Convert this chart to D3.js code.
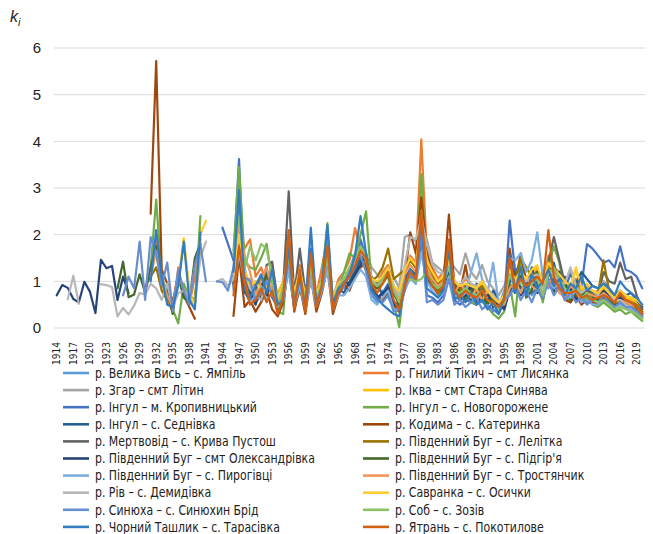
<!DOCTYPE html>
<html lang="uk">
<head>
<meta charset="UTF-8">
<title>k_i</title>
<script src="https://cdnjs.cloudflare.com/ajax/libs/d3/7.8.5/d3.min.js"></script>
<style>
  body { margin: 0; background: #fff; }
  svg { display: block; font-family: "Liberation Sans Narrow", "DejaVu Sans Condensed", sans-serif; }
  .grid line { stroke: #d9d9d9; stroke-width: 1; }
  .series { fill: none; stroke-width: 2.2; stroke-linejoin: round; stroke-linecap: round; }
</style>
</head>
<body>
<div id="chart"></div>
<script>
// роки (категорії осі X)
const years = d3.range(1914, 2021);
const yTicks = [0, 1, 2, 3, 4, 5, 6];

const names = [
  "р. Велика Вись – с. Ямпіль",
  "р. Гнилий Тікич – смт Лисянка",
  "р. Згар – смт Літин",
  "р. Іква – смт Стара Синява",
  "р. Інгул – м. Кропивницький",
  "р. Інгул – с. Новогорожене",
  "р. Інгул – с. Седнівка",
  "р. Кодима – с. Катеринка",
  "р. Мертвовід – с. Крива Пустош",
  "р. Південний Буг – с. Лелітка",
  "р. Південний Буг – смт Олександрівка",
  "р. Південний Буг – с. Підгір'я",
  "р. Південний Буг – с. Пирогівці",
  "р. Південний Буг – с. Тростянчик",
  "р. Рів – с. Демидівка",
  "р. Савранка – с. Осички",
  "р. Синюха – с. Синюхин Брід",
  "р. Соб – с. Зозів",
  "р. Чорний Ташлик – с. Тарасівка",
  "р. Ятрань – с. Покотилове"
];

const colors = ["#5B9BD5", "#ED7D31", "#A5A5A5", "#FFC000", "#4472C4", "#70AD47", "#255E91", "#9E480E",
  "#636363", "#997300", "#264478", "#43682B", "#7CAFDD", "#F1975A", "#B7B7B7", "#FFCD33",
  "#698ED0", "#8CC168", "#327DC2", "#D26012"];

// ранні ряди (до 1946), початковий рік у earlyStart
const earlyStart = [null, 1931, null, 1932, 1944, 1931, null, 1931, null, 1930,
  1914, 1925, null, 1931, 1916, 1936, 1926, null, 1931, null];

const tikychEarly = [1.2, 1.85, 1.0, 0.6, 0.35, 1.3, 0.7, 0.5, 1.1, 1.6];
const ikvaEarly = [1.55, 1.05, 0.7, 0.45, 1.0, 1.92, 0.75, 0.55, 2.15];
const kropEarly = [2.15, 1.8];
const novohorEarly = [1.3, 2.75, 1.1, 0.75, 0.4, 0.1, 0.95, 0.65, 0.5, 2.4];
const kodymaEarly = [2.45, 5.72, 1.25, 0.95, 0.55, 1.15, 0.7, 0.45, 0.2];
const lelitkaEarly = [0.9, 1.1, 1.3, 0.8, 0.6, 0.5, 1.0, 0.8, 0.7, 0.6, 1.9];
const oleksEarly = [0.70, 0.92, 0.86, 0.62, 0.55, 0.99, 0.78, 0.32, 1.46, 1.28, 1.33, 0.60, 1.10, 0.75];
const pidhirEarly = [0.85, 1.42, 0.66, 0.72, 1.15, 0.75, 1.3, 1.75, 1.0, 0.8, 0.3, 1.1, 0.65, 0.55, 1.5, 1.8];
const trostEarly = [1.1, 1.65, 1.05, 0.7, 0.45, 1.2, 0.8, 0.6, 1.3, 1.7];
const rivEarly = [0.62, 1.12, 0.52, null, null, null, 0.94, 0.92, 0.88, 0.25, 0.43, 0.29, 0.48, 0.75, 0.72,
  0.95, 0.85, 0.6, 0.95, 0.45, 0.75, 0.8, 0.7, 0.55, 1.5, 1.85, null, 1.0, 1.05, 0.9];
const savrEarly = [0.9, 1.9, 0.8, 0.45, 2.0, 2.3];
const syniukhaEarly = [0.7, 1.1, 0.85, 1.85, 0.6, 1.95, 1.6, 0.9, 1.4, 0.35, 1.25, 0.8, 0.5, 1.35, 1.8, 1.0,
  null, 1.0, 0.98, 0.8];
const tashlykEarly = [1.0, 2.1, 1.1, 0.5, 0.45, 0.9, 1.85, 0.6, 0.4, 2.05];

// 1946–2020
const velykaVys = [1.0, 2.2, 1.3, 0.75, 0.95, 0.6, 0.85, 1.1, 0.55, 0.9, 1.2, 0.45, 0.8, 0.5, 1.05, 0.58, 0.92, 1.62, 0.47, 0.83,
  0.85, 0.95, 1.3, 1.5, 1.25, 0.7, 0.55, 0.8, 0.65, 0.45, 0.45, 1.02, 1.27, 1.08, 2.35, 1.18, 0.97, 0.78, 0.92, 1.46,
  0.7, 0.85, 0.6, 0.9, 0.75, 0.55, 0.8, 0.65, 0.45, 0.8, 0.95, 1.15, 0.75, 1.0, 0.7, 0.9, 1.2, 0.85, 1.05, 1.1,
  0.7, 0.95, 0.65, 0.8, 0.55, 0.65, 0.61, 0.77, 0.63, 0.52, 0.64, 0.55, 0.51, 0.42, 0.31];
const hnylyiTikych = [1.45, 2.3, 1.7, 1.9, 1.1, 1.3, 0.95, 1.35, 0.6, 0.85, 2.05, 0.6, 1.35, 0.52, 1.6, 0.7, 1.3, 1.95, 0.62, 1.05,
  1.2, 1.45, 2.14, 1.65, 1.5, 1.05, 0.95, 1.2, 1.35, 0.85, 0.7, 1.3, 1.55, 1.4, 4.04, 1.6, 1.3, 1.05, 1.2, 1.75,
  1.0, 0.9, 1.05, 0.95, 0.85, 1.0, 0.8, 0.65, 0.55, 0.7, 1.4, 1.05, 1.3, 0.95, 1.1, 1.25, 0.85, 1.55, 1.3, 1.2,
  1.0, 0.8, 1.05, 0.75, 0.85, 0.75, 0.8, 0.9, 0.75, 0.6, 0.75, 0.6, 0.65, 0.5, 0.35];
const zhar = [0.95, 1.7, 0.9, 1.05, 0.6, 0.75, 0.9, 1.2, 0.7, 0.65, 1.6, 0.65, 1.0, 0.7, 1.2, 0.65, 1.05, 1.3, 0.7, 0.95,
  1.2, 1.1, 1.35, 1.8, 1.55, 1.3, 1.15, 1.0, 1.25, 1.1, 0.85, 1.95, 2.0, 1.85, 2.2, 1.9, 1.4, 1.3, 1.2, 1.45,
  1.3, 1.15, 1.6, 1.2, 1.05, 1.35, 1.0, 0.85, 0.7, 0.9, 1.15, 1.0, 1.2, 1.0, 1.05, 1.15, 0.75, 1.3, 1.2, 1.05,
  0.9, 1.25, 0.85, 0.75, 0.85, 0.8, 0.7, 0.85, 0.7, 0.6, 0.65, 0.55, 0.5, 0.4, 0.25];
const ikva = [1.2, 2.0, 1.05, 0.8, 0.95, 0.85, 0.7, 0.9, 0.75, 1.0, 1.55, 0.7, 1.2, 0.65, 1.3, 0.7, 0.95, 1.45, 0.6, 0.9,
  1.0, 1.25, 1.4, 1.6, 1.5, 1.0, 0.95, 1.05, 1.25, 0.85, 0.75, 1.2, 1.45, 1.3, 2.3, 1.4, 1.15, 0.95, 1.05, 1.5,
  0.95, 0.85, 0.9, 0.85, 0.8, 0.95, 0.75, 0.6, 0.5, 0.65, 1.2, 1.0, 1.15, 1.0, 1.2, 1.3, 0.9, 1.35, 1.2, 1.1,
  0.95, 0.9, 1.25, 0.8, 0.9, 0.75, 0.7, 0.85, 0.7, 0.6, 0.75, 0.65, 0.6, 0.55, 0.45];
const kropyvnytskyi = [1.45, 3.62, 0.75, 0.9, 0.55, 0.7, 1.25, 0.65, 0.45, 0.5, 1.4, 0.45, 1.0, 0.4, 1.7, 0.5, 0.85, 1.55, 0.45, 0.75,
  0.95, 1.1, 1.35, 1.9, 1.5, 0.85, 0.6, 0.75, 0.95, 0.5, 0.35, 0.8, 1.1, 0.95, 1.9, 0.7, 0.65, 0.55, 0.7, 1.2,
  0.6, 0.5, 0.6, 0.55, 0.5, 0.6, 0.45, 0.4, 0.3, 0.55, 2.3, 1.2, 1.4, 0.9, 0.75, 0.85, 0.6, 1.05, 0.9, 0.8,
  0.85, 1.15, 0.95, 0.9, 1.8, 1.7, 1.55, 1.4, 1.45, 1.3, 1.75, 1.25, 1.2, 1.1, 0.85];
const novohorozhene = [1.65, 3.45, 1.45, 1.3, 1.25, 1.5, 1.8, 1.0, 0.35, 0.3, 1.75, 0.45, 1.2, 0.35, 1.45, 0.45, 1.05, 2.25, 0.5, 0.85,
  1.2, 1.6, 1.5, 2.0, 2.5, 0.95, 0.85, 1.0, 1.1, 0.55, 0.02, 1.0, 1.15, 1.05, 3.3, 1.3, 1.0, 0.7, 0.85, 1.2,
  0.7, 0.6, 0.75, 0.55, 0.5, 0.65, 0.45, 0.3, 0.2, 0.35, 0.95, 0.25, 1.5, 0.7, 0.85, 1.1, 0.55, 1.3, 1.75, 1.4,
  0.7, 0.55, 0.75, 0.55, 0.65, 0.5, 0.45, 0.55, 0.45, 0.35, 0.4, 0.3, 0.35, 0.25, 0.15];
const sednivka = [0.9, 2.05, 0.8, 0.55, 0.85, 1.05, 0.8, 1.0, 0.4, 0.75, 1.55, 0.55, 1.15, 0.5, 1.3, 0.55, 0.95, 1.5, 0.55, 0.85,
  0.75, 1.0, 1.2, 1.45, 1.3, 0.85, 0.95, 0.7, 0.9, 0.55, 0.5, 1.05, 1.25, 1.15, 2.5, 1.15, 0.95, 0.8, 0.95, 1.35,
  0.65, 0.9, 0.7, 0.6, 0.95, 0.7, 0.55, 0.8, 0.6, 0.45, 1.0, 1.2, 0.85, 0.95, 1.3, 0.9, 1.0, 1.1, 1.4, 0.85,
  1.1, 0.8, 0.95, 1.2, 1.05, 0.9, 0.85, 1.0, 0.85, 0.7, 0.8, 0.7, 0.75, 0.6, 0.45];
const kodyma = [0.26, 1.55, 0.45, 0.6, 0.35, 0.55, 0.8, 0.4, 0.25, 0.55, 1.5, 0.35, 0.9, 0.3, 1.1, 0.35, 0.75, 1.3, 0.3, 0.7,
  0.95, 0.8, 1.1, 1.3, 1.4, 0.9, 0.7, 0.6, 0.75, 0.45, 0.35, 1.1, 2.05, 1.6, 2.8, 1.7, 1.2, 0.85, 1.0, 2.43,
  0.85, 0.75, 1.35, 0.7, 0.7, 0.8, 0.6, 0.5, 0.4, 0.55, 1.7, 0.95, 1.6, 1.0, 0.95, 1.05, 0.65, 1.25, 1.0, 0.9,
  0.6, 0.55, 0.7, 0.5, 0.6, 0.55, 0.5, 0.65, 0.55, 0.45, 0.55, 0.45, 0.4, 0.35, 0.25];
const mertvovid = [0.85, 1.8, 1.15, 0.7, 1.0, 0.8, 1.35, 1.42, 0.55, 0.9, 2.93, 0.7, 1.7, 0.75, 1.4, 0.65, 1.0, 1.45, 0.6, 0.9,
  1.0, 1.15, 1.35, 1.55, 1.4, 1.1, 0.95, 1.05, 1.3, 0.9, 0.65, 1.2, 1.45, 1.3, 2.2, 1.25, 1.05, 0.9, 1.0, 1.3,
  0.85, 0.75, 0.9, 0.8, 0.75, 0.85, 0.7, 0.6, 0.5, 0.65, 1.3, 0.95, 1.15, 0.9, 1.0, 1.05, 0.75, 1.4, 1.95, 1.45,
  0.95, 0.9, 0.85, 0.7, 0.85, 0.75, 0.7, 1.2, 1.0, 0.95, 1.4, 1.05, 1.1, 0.7, 0.4];
const lelitka = [1.0, 1.85, 1.2, 0.95, 0.65, 1.1, 0.95, 0.85, 0.6, 0.8, 1.6, 0.6, 1.05, 0.55, 1.25, 0.6, 0.95, 1.4, 0.55, 0.85,
  1.0, 1.2, 1.4, 1.65, 1.5, 1.0, 1.1, 1.3, 1.7, 1.05, 1.15, 1.25, 1.45, 1.3, 2.4, 1.35, 1.1, 0.95, 1.05, 1.55,
  0.9, 0.8, 0.95, 0.85, 0.8, 0.9, 0.75, 0.65, 0.55, 0.7, 1.25, 1.0, 1.5, 1.3, 1.1, 1.2, 0.85, 1.3, 1.15, 1.05,
  0.9, 0.8, 0.95, 0.75, 0.8, 0.7, 0.75, 1.45, 0.8, 0.65, 0.7, 0.6, 0.55, 0.5, 0.35];
const oleksandrivka = [0.95, 2.3, 0.85, 0.75, 0.5, 0.95, 0.7, 1.05, 0.5, 0.7, 1.45, 0.5, 1.05, 0.45, 1.2, 0.5, 0.85, 1.4, 0.5, 0.8,
  1.05, 0.9, 1.15, 1.35, 1.6, 1.0, 0.65, 0.75, 0.85, 0.5, 0.45, 0.95, 1.15, 1.05, 2.2, 1.05, 0.9, 0.75, 0.85, 1.25,
  0.85, 0.6, 0.7, 0.9, 0.55, 0.65, 0.75, 0.45, 0.55, 0.4, 0.8, 1.05, 0.7, 0.85, 1.0, 0.75, 0.95, 1.0, 0.8, 1.2,
  0.7, 0.85, 0.6, 0.75, 0.7, 0.7, 0.65, 0.8, 0.7, 0.55, 0.65, 0.55, 0.5, 0.45, 0.3];
const pidhirya = [1.1, 2.5, 0.95, 0.7, 0.8, 0.65, 1.15, 0.75, 0.5, 0.85, 1.5, 0.55, 1.1, 0.5, 1.25, 0.55, 0.9, 1.45, 0.5, 0.8,
  0.95, 1.15, 1.35, 1.6, 1.45, 0.95, 0.85, 0.95, 1.15, 0.75, 0.5, 1.0, 1.2, 1.1, 2.3, 1.2, 1.0, 0.8, 0.95, 1.35,
  0.95, 0.75, 0.6, 0.8, 0.9, 0.7, 0.5, 0.65, 0.55, 0.7, 0.9, 0.75, 1.15, 0.65, 0.8, 1.2, 0.9, 1.0, 0.75, 0.85,
  0.95, 0.6, 0.75, 0.7, 0.85, 0.65, 0.6, 0.75, 0.6, 0.5, 0.6, 0.5, 0.5, 0.4, 0.3];
const pyrohivtsi = [0.8, 1.6, 1.0, 0.55, 0.7, 0.9, 0.6, 0.75, 0.45, 0.6, 1.25, 0.45, 0.9, 0.4, 1.05, 0.45, 0.8, 1.25, 0.4, 0.7,
  0.7, 0.85, 1.05, 1.25, 1.1, 0.6, 0.5, 0.65, 0.8, 0.4, 0.4, 0.85, 1.05, 0.95, 1.6, 1.0, 0.8, 0.65, 0.75, 1.1,
  0.7, 0.65, 0.75, 1.2, 1.6, 1.05, 0.75, 1.4, 0.55, 0.7, 1.5, 1.45, 1.6, 1.2, 1.45, 2.05, 1.1, 1.0, 0.85, 1.0,
  0.75, 0.65, 0.8, 0.55, 0.6, 0.5, 0.5, 0.6, 0.5, 0.45, 0.5, 0.45, 0.4, 0.35, 0.2];
const trostianchyk = [1.25, 2.2, 1.55, 1.2, 0.7, 1.0, 1.3, 0.8, 0.65, 0.95, 1.65, 0.65, 1.2, 0.6, 1.35, 0.65, 1.0, 1.55, 0.6, 0.95,
  1.05, 1.25, 1.55, 1.7, 1.45, 1.0, 0.9, 1.05, 1.25, 0.85, 0.6, 1.15, 1.35, 1.2, 2.5, 1.3, 1.05, 0.9, 1.0, 1.4,
  0.75, 0.95, 0.8, 0.65, 0.85, 0.6, 0.8, 0.7, 0.55, 0.5, 0.85, 1.0, 0.75, 1.1, 0.9, 0.8, 1.05, 0.9, 1.2, 0.75,
  0.65, 0.9, 0.8, 0.6, 0.75, 0.7, 0.65, 0.75, 0.65, 0.55, 0.6, 0.55, 0.5, 0.45, 0.3];
const riv = [1.05, 1.65, 1.2, 0.85, 0.7, 0.6, 1.0, 0.95, 0.7, 0.6, 1.45, 0.6, 1.05, 0.55, 1.2, 0.6, 0.95, 1.35, 0.55, 0.85,
  0.95, 1.2, 1.4, 1.6, 1.5, 1.05, 0.9, 1.0, 1.2, 0.9, 0.7, 1.35, 1.95, 1.9, 2.35, 1.8, 1.35, 1.2, 1.15, 1.4,
  1.0, 0.9, 1.1, 0.95, 0.9, 1.0, 0.85, 0.7, 0.55, 0.7, 1.2, 1.0, 1.2, 1.0, 1.1, 1.15, 0.8, 1.25, 1.15, 1.0,
  0.95, 1.3, 0.9, 0.75, 0.85, 0.8, 0.7, 1.0, 0.75, 0.6, 0.6, 0.5, 0.45, 0.35, 0.2];
const savranka = [1.15, 2.0, 1.25, 0.9, 1.0, 0.8, 0.85, 1.1, 0.6, 0.95, 1.6, 0.75, 1.25, 0.7, 1.4, 0.75, 1.0, 1.5, 0.65, 0.95,
  1.05, 1.3, 1.5, 1.65, 1.55, 1.05, 1.0, 1.1, 1.3, 0.9, 0.8, 1.25, 1.5, 1.35, 2.2, 1.45, 1.2, 1.0, 1.1, 1.45,
  1.0, 0.9, 0.95, 0.9, 0.85, 1.0, 0.8, 0.65, 0.55, 0.7, 1.25, 1.05, 1.2, 1.05, 1.25, 1.35, 0.95, 1.4, 1.25, 1.15,
  1.0, 0.9, 1.3, 0.85, 0.95, 0.8, 0.75, 0.9, 0.75, 0.65, 0.8, 0.7, 0.65, 0.6, 0.5];
const syniukha = [1.3, 2.75, 1.1, 1.0, 0.6, 0.75, 1.0, 0.7, 0.5, 0.75, 1.45, 0.5, 1.05, 0.45, 1.25, 0.55, 0.85, 1.45, 0.5, 0.8,
  0.9, 1.25, 1.6, 1.55, 1.2, 0.75, 0.6, 0.55, 0.7, 0.35, 0.4, 0.9, 1.15, 1.0, 2.1, 0.55, 0.6, 0.5, 0.6, 1.05,
  0.5, 0.6, 0.45, 0.55, 0.65, 0.4, 0.5, 0.35, 0.45, 0.6, 0.7, 0.9, 0.6, 0.8, 0.55, 0.85, 0.65, 1.0, 0.7, 0.9,
  0.6, 0.75, 0.55, 0.65, 0.5, 0.6, 0.55, 0.7, 0.55, 0.45, 0.55, 0.45, 0.45, 0.35, 0.25];
const sob = [1.55, 2.4, 1.25, 1.75, 1.45, 1.8, 1.7, 1.05, 0.45, 0.9, 1.55, 0.65, 1.15, 0.6, 1.3, 0.6, 1.0, 1.5, 0.55, 0.9,
  1.05, 1.3, 1.5, 1.75, 1.55, 1.0, 0.9, 1.05, 1.2, 0.8, 0.55, 1.0, 1.05, 1.0, 1.05, 1.2, 0.95, 0.85, 0.95, 1.3,
  0.8, 0.75, 0.85, 0.75, 0.7, 0.8, 0.6, 0.5, 0.4, 0.55, 1.15, 0.85, 1.0, 0.8, 0.95, 1.05, 0.7, 1.15, 1.3, 1.05,
  0.85, 0.75, 0.85, 0.65, 0.75, 0.6, 0.55, 0.6, 0.5, 0.4, 0.45, 0.4, 0.35, 0.3, 0.2];
const chornyiTashlyk = [1.2, 2.95, 0.85, 0.65, 0.9, 1.15, 0.75, 1.25, 0.5, 0.6, 1.75, 0.5, 1.1, 0.45, 2.15, 0.5, 0.9, 2.2, 0.5, 0.85,
  0.95, 1.15, 1.55, 2.4, 1.6, 0.8, 0.65, 0.5, 0.4, 0.3, 0.25, 0.95, 1.25, 1.05, 2.3, 0.85, 0.75, 0.65, 0.8, 1.7,
  0.6, 0.7, 0.55, 0.75, 0.5, 0.6, 0.4, 0.55, 0.3, 0.65, 1.55, 0.75, 1.3, 0.7, 1.15, 0.85, 1.0, 1.25, 0.9, 1.05,
  0.7, 0.95, 0.85, 1.1, 0.8, 0.9, 0.85, 0.95, 0.85, 0.7, 1.0, 0.85, 0.75, 0.65, 0.5];
const yatran = [0.7, 1.75, 1.0, 0.5, 0.6, 0.85, 0.55, 0.8, 0.3, 0.65, 2.1, 0.4, 1.25, 0.35, 1.6, 0.45, 0.9, 1.75, 0.4, 0.75,
  0.95, 1.1, 1.35, 1.65, 1.5, 0.95, 0.75, 0.95, 1.2, 0.6, 0.4, 0.9, 1.2, 1.05, 2.5, 1.15, 0.9, 0.75, 0.9, 1.9,
  0.8, 0.65, 0.8, 0.7, 0.65, 0.8, 0.6, 0.55, 0.45, 0.6, 1.5, 0.85, 1.05, 0.9, 1.0, 1.1, 0.95, 2.1, 1.1, 0.85,
  0.75, 0.75, 0.8, 0.65, 0.7, 0.6, 0.65, 0.7, 0.65, 0.55, 0.75, 0.6, 0.55, 0.45, 0.3];

const lateStart = 1946;
const late = [velykaVys, hnylyiTikych, zhar, ikva, kropyvnytskyi, novohorozhene, sednivka, kodyma,
  mertvovid, lelitka, oleksandrivka, pidhirya, pyrohivtsi, trostianchyk, riv, savranka,
  syniukha, sob, chornyiTashlyk, yatran];
const early = [[], tikychEarly, [], ikvaEarly, kropEarly, novohorEarly, [], kodymaEarly, [], lelitkaEarly,
  oleksEarly, pidhirEarly, [], trostEarly, rivEarly, savrEarly, syniukhaEarly, [], tashlykEarly, []];

const series = names.map((name, i) => {
  const byYear = new Map();
  early[i].forEach((v, j) => byYear.set(earlyStart[i] + j, v));
  late[i].forEach((v, j) => byYear.set(lateStart + j, v));
  return {
    name, color: colors[i],
    values: years.map(yr => ({ year: yr, v: byYear.has(yr) ? byYear.get(yr) : null }))
  };
});

const width = 653, height = 534;
const margin = { left: 54, right: 8, top: 48, bottom: 206 };

const svg = d3.select("#chart").append("svg")
  .attr("width", width).attr("height", height);

const x = d3.scaleBand().domain(years).range([margin.left, width - margin.right]);
const y = d3.scaleLinear().domain([0, 6]).range([height - margin.bottom, margin.top]);
const cx = yr => x(yr) + x.bandwidth() / 2;

// сітка
svg.append("g").attr("class", "grid")
  .selectAll("line").data(yTicks).join("line")
  .attr("x1", margin.left).attr("x2", width - margin.right)
  .attr("y1", d => y(d)).attr("y2", d => y(d));

// підписи осі Y
svg.append("g").selectAll("text").data(yTicks).join("text")
  .attr("x", 41).attr("y", d => y(d)).attr("dy", "0.36em")
  .attr("text-anchor", "end")
  .style("font-family", "'Liberation Sans', sans-serif")
  .attr("font-size", 15).attr("fill", "#222")
  .text(d => d);

// k_i
const kLabel = svg.append("text").attr("x", 10).attr("y", 22)
  .style("font-family", "'Liberation Sans', sans-serif")
  .attr("font-size", 16).attr("font-style", "italic").attr("fill", "#222");
kLabel.append("tspan").text("k");
kLabel.append("tspan").attr("font-size", 11).attr("dy", 4).text("i");

// підписи осі X
svg.append("g").selectAll("text")
  .data(years.filter(yr => (yr - 1914) % 3 === 0)).join("text")
  .attr("transform", d => `translate(${cx(d)},342) rotate(-90)`)
  .attr("dy", "0.35em").attr("text-anchor", "end")
  .attr("font-size", 10).attr("fill", "#222")
  .text(d => d);

// лінії
const line = d3.line()
  .defined(d => d.v != null)
  .x(d => cx(d.year))
  .y(d => y(d.v));

svg.append("g").selectAll("path").data(series).join("path")
  .attr("class", "series")
  .attr("stroke", d => d.color)
  .attr("d", d => line(d.values));

// легенда
const leg = svg.append("g").selectAll("g").data(series).join("g")
  .attr("transform", (d, i) => `translate(${i % 2 === 0 ? 63 : 363},${373 + Math.floor(i / 2) * 17.1})`);
leg.append("line").attr("x1", 0).attr("x2", 26)
  .attr("stroke", d => d.color).attr("stroke-width", 2.6);
leg.append("text")
  .attr("transform", "translate(32,0) scale(0.9,1)")
  .attr("dy", "0.35em")
  .attr("font-size", 13.5).attr("fill", "#222")
  .text(d => d.name);
</script>
</body>
</html>
